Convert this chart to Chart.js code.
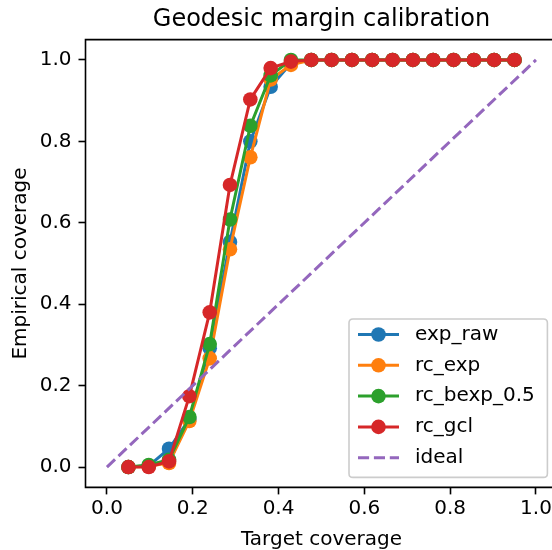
<!DOCTYPE html>
<html><head><meta charset="utf-8">
<script src="https://cdn.jsdelivr.net/npm/chart.js@4"></script>
<style>html,body{margin:0;padding:0;overflow:hidden;background:#fff;width:552px;height:550px}</style>
</head><body>
<canvas id="c" width="552" height="550" style="display:block;width:552px;height:550px"></canvas>
<script>
const targetCoverage = [0.05, 0.0974, 0.1447, 0.1921, 0.2395, 0.2868, 0.3342, 0.3816, 0.4289, 0.4763, 0.5237, 0.5711, 0.6184, 0.6658, 0.7132, 0.7605, 0.8079, 0.8553, 0.9026, 0.95];
const expRaw    = [0.0, 0.003, 0.045, 0.118, 0.292, 0.553, 0.800, 0.934, 0.992, 1.0, 1.0, 1.0, 1.0, 1.0, 1.0, 1.0, 1.0, 1.0, 1.0, 1.0];
const rcExp     = [0.0, 0.002, 0.010, 0.113, 0.267, 0.535, 0.761, 0.952, 0.988, 1.0, 1.0, 1.0, 1.0, 1.0, 1.0, 1.0, 1.0, 1.0, 1.0, 1.0];
const rcBexp05  = [0.0, 0.005, 0.018, 0.123, 0.302, 0.608, 0.838, 0.962, 1.0, 1.0, 1.0, 1.0, 1.0, 1.0, 1.0, 1.0, 1.0, 1.0, 1.0, 1.0];
const rcGcl     = [0.0, 0.0, 0.014, 0.174, 0.380, 0.693, 0.903, 0.980, 0.996, 1.0, 1.0, 1.0, 1.0, 1.0, 1.0, 1.0, 1.0, 1.0, 1.0, 1.0];
const idealX = [0.0, 1.0];
const idealY = [0.0, 1.0];
const tickValues = [0.0, 0.2, 0.4, 0.6, 0.8, 1.0];
const seriesNames = ['exp_raw', 'rc_exp', 'rc_bexp_0.5', 'rc_gcl', 'ideal'];
const seriesColors = ['#1f77b4', '#ff7f0e', '#2ca02c', '#d62728', '#9467bd'];
const chartTitle = 'Geodesic margin calibration';
const xTitle = 'Target coverage';
const yTitle = 'Empirical coverage';
// visible x range (the right part of the axes box is cropped off in the reference)
const xMin = -0.05, xMaxVisible = 1.0374, xMaxFull = 1.05;
const yMin = -0.05, yMax = 1.05;

const FONT = 'DejaVu Sans';
Chart.defaults.font.family = FONT;
Chart.defaults.color = '#000';

function pts(xs, ys) { return xs.map((x, i) => ({x: x, y: ys[i]})); }
function series(i, ys, order) {
  return {
    label: seriesNames[i], data: pts(targetCoverage, ys), order: order,
    borderColor: seriesColors[i], backgroundColor: seriesColors[i],
    pointBackgroundColor: seriesColors[i], borderWidth: 3,
    pointRadius: 7.3, pointHoverRadius: 7.3, pointBorderWidth: 0, tension: 0
  };
}

const framePlugin = {
  id: 'frame',
  afterDatasetsDraw(chart) {
    const {ctx, chartArea: a} = chart;
    ctx.save();
    ctx.strokeStyle = '#000'; ctx.lineWidth = 1.6;
    ctx.beginPath();
    ctx.moveTo(a.right + 10, a.top); ctx.lineTo(a.left, a.top);
    ctx.lineTo(a.left, a.bottom); ctx.lineTo(a.right + 10, a.bottom);
    ctx.stroke();
    ctx.restore();
  }
};

const titlePlugin = {
  id: 'axesTitle',
  afterDraw(chart) {
    const {ctx, chartArea: a} = chart;
    const fullRight = chart.scales.x.getPixelForValue(xMaxFull);
    const cx = (a.left + fullRight) / 2;
    ctx.save();
    ctx.fillStyle = '#000';
    ctx.textAlign = 'center'; ctx.textBaseline = 'middle';
    ctx.font = '24px "' + FONT + '"';
    ctx.fillText(chartTitle, cx, 19.4);
    ctx.font = '20px "' + FONT + '"';
    ctx.fillText(xTitle, cx, 539.5);
    ctx.restore();
  }
};

const legendPlugin = {
  id: 'mplLegend',
  afterDraw(chart) {
    const ctx = chart.ctx;
    const a = chart.chartArea;
    const right = chart.scales.x.getPixelForValue(xMaxFull) - 10, bottom = a.bottom - 10;
    const left = 349, top = 319;
    ctx.save();
    const r = 4;
    ctx.beginPath();
    ctx.moveTo(left + r, top);
    ctx.lineTo(right - r, top); ctx.quadraticCurveTo(right, top, right, top + r);
    ctx.lineTo(right, bottom - r); ctx.quadraticCurveTo(right, bottom, right - r, bottom);
    ctx.lineTo(left + r, bottom); ctx.quadraticCurveTo(left, bottom, left, bottom - r);
    ctx.lineTo(left, top + r); ctx.quadraticCurveTo(left, top, left + r, top);
    ctx.closePath();
    ctx.fillStyle = 'rgba(255,255,255,0.8)';
    ctx.fill();
    ctx.strokeStyle = '#cccccc'; ctx.lineWidth = 1.6;
    ctx.stroke();
    const ds = chart.data.datasets;
    const rowH = 30.8;
    ds.forEach((d, i) => {
      const cy = top + 15.5 + i * rowH;
      ctx.strokeStyle = d.borderColor;
      ctx.lineWidth = d.borderWidth;
      ctx.setLineDash(d.borderDash || []);
      ctx.beginPath(); ctx.moveTo(358, cy); ctx.lineTo(399, cy); ctx.stroke();
      ctx.setLineDash([]);
      if (d.pointRadius > 0) {
        ctx.fillStyle = d.borderColor;
        ctx.beginPath(); ctx.arc(378.5, cy, d.pointRadius, 0, Math.PI * 2); ctx.fill();
      }
      ctx.fillStyle = '#000';
      ctx.font = '20px "' + FONT + '"';
      ctx.textBaseline = 'middle'; ctx.textAlign = 'left';
      ctx.fillText(d.label, 415, cy);
    });
    ctx.restore();
  }
};

function axisCommon(title, tickPad, mn, mx) {
  return {
    type: 'linear', min: mn, max: mx,
    afterBuildTicks: s => { s.ticks = tickValues.map(v => ({value: v})); },
    ticks: { callback: v => Number(v).toFixed(1), font: {size: 20, family: FONT}, color: '#000', padding: tickPad, maxRotation: 0, autoSkip: false },
    grid: { drawOnChartArea: false, drawTicks: true, tickLength: 7, tickWidth: 1.6, tickColor: '#000' },
    border: { display: false },
    title: title
  };
}

const xAxis = axisCommon({display: false}, 2.5, xMin, xMaxVisible);
xAxis.afterFit = s => { s.height = 72.6; s.paddingLeft = 0; s.paddingRight = 0; };
const yAxis = axisCommon({display: true, text: yTitle, font: {size: 20, family: FONT}, color: '#000', padding: {top: 9, bottom: 0}}, 7, yMin, yMax);
yAxis.afterFit = s => { s.width = 85.5; s.paddingTop = 0; s.paddingBottom = 0; };

new Chart(document.getElementById('c'), {
  type: 'line',
  data: {
    datasets: [
      series(0, expRaw, 4),
      series(1, rcExp, 3),
      series(2, rcBexp05, 2),
      series(3, rcGcl, 1),
      {
        label: seriesNames[4], data: pts(idealX, idealY), order: 0,
        borderColor: seriesColors[4], backgroundColor: seriesColors[4],
        borderWidth: 3, borderDash: [11.1, 4.8], pointRadius: 0, pointHoverRadius: 0, tension: 0
      }
    ]
  },
  options: {
    responsive: false, maintainAspectRatio: false, animation: false, devicePixelRatio: 1, events: [],
    layout: { autoPadding: false, padding: {left: 0, right: 0, top: 39.6, bottom: -10} },
    scales: { x: xAxis, y: yAxis },
    plugins: {
      legend: { display: false },
      tooltip: { enabled: false },
      title: { display: false }
    }
  },
  plugins: [framePlugin, titlePlugin, legendPlugin]
});
</script>
</body></html>
